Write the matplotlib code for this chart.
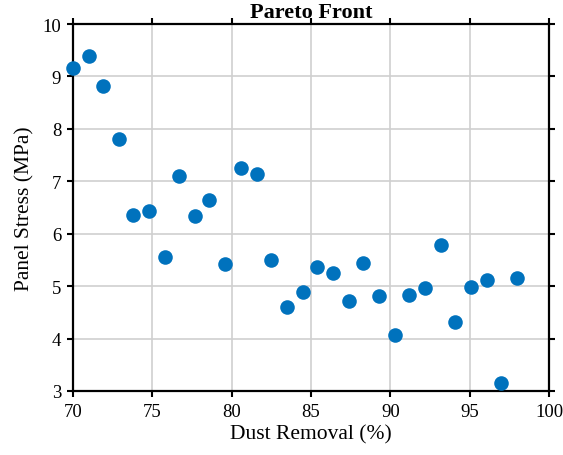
import matplotlib.pyplot as plt

# dust removal (%) vs panel stress (MPa) for each pareto solution
dust_removal = [70.0, 71.0, 71.9, 72.9, 73.8, 74.8, 75.8, 76.7, 77.7, 78.6,
                79.6, 80.6, 81.6, 82.5, 83.5, 84.5, 85.4, 86.4, 87.4, 88.3,
                89.3, 90.3, 91.2, 92.2, 93.2, 94.1, 95.1, 96.1, 97.0, 98.0]
panel_stress = [9.16, 9.39, 8.81, 7.81, 6.36, 6.43, 5.55, 7.11, 6.34, 6.64,
                5.43, 7.26, 7.13, 5.49, 4.61, 4.89, 5.37, 5.25, 4.72, 5.44,
                4.81, 4.07, 4.83, 4.97, 5.79, 4.31, 4.99, 5.11, 3.16, 5.16]

x_ticks = [70, 75, 80, 85, 90, 95, 100]
y_ticks = [3, 4, 5, 6, 7, 8, 9, 10]

plt.rcParams['font.family'] = ['Liberation Serif', 'DejaVu Serif']

fig = plt.figure(figsize=(5.63, 4.56), dpi=100)
ax = fig.add_axes([73 / 563, 1 - 392 / 456, 476 / 563, 367 / 456])

ax.scatter(dust_removal, panel_stress, s=110, color='#0072BD', zorder=3,
           clip_on=False, linewidths=0)

ax.set_xlim(70, 100)
ax.set_ylim(3, 10)
ax.set_xticks(x_ticks)
ax.set_yticks(y_ticks)
ax.grid(True, color='#cfcfcf', linewidth=1.2)
ax.set_axisbelow(True)

ax.tick_params(direction='out', top=True, right=True, length=4.5, width=1.5,
               labelsize=13.5, pad=4)
for sp in ax.spines.values():
    sp.set_linewidth(1.6)

ax.set_xlabel('Dust Removal (%)', fontsize=15.5, labelpad=3)
ax.set_ylabel('Panel Stress (MPa)', fontsize=15.5, labelpad=6)
ax.set_title('Pareto Front', fontsize=16, fontweight='bold', pad=5)

fig.savefig('out.png', dpi=100)
